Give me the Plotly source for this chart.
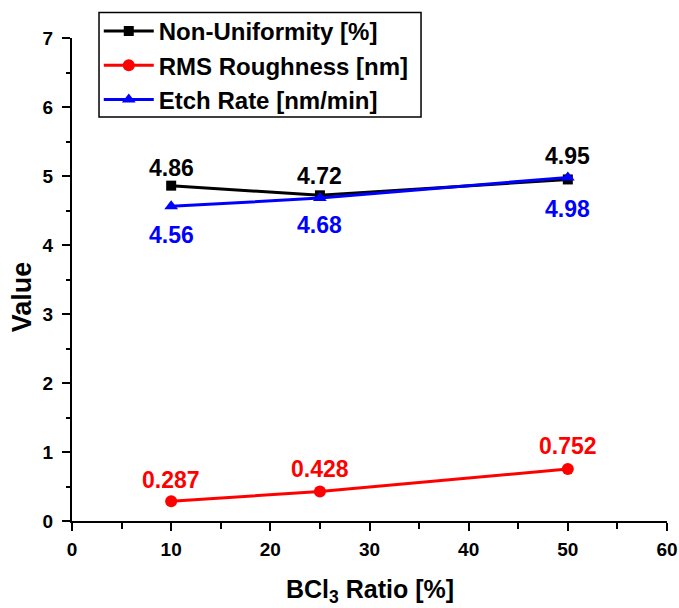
import plotly.graph_objects as go

# BCl3 ratio in the gas mix [%]
bcl3_ratio = [10, 25, 50]

# measured responses
non_uniformity = [4.86, 4.72, 4.95]   # %
rms_roughness = [0.287, 0.428, 0.752]  # nm
etch_rate = [4.56, 4.68, 4.98]        # nm/min

x_ticks = [0, 10, 20, 30, 40, 50, 60]
y_ticks = [0, 1, 2, 3, 4, 5, 6, 7]

FONT = "Liberation Sans, Arial, sans-serif"

series = [
    # name, values, colour, marker symbol, marker size, value-label y-shifts (px)
    ("Non-Uniformity [%]", non_uniformity, "#000000", "square", 10, [18, 19, 23]),
    ("RMS Roughness [nm]", rms_roughness, "#ff0000", "circle", 12, [21, 22, 23]),
    ("Etch Rate [nm/min]", etch_rate, "#0000ff", "triangle-up", 12, [-29, -27, -32]),
]

fig = go.Figure()

for name, vals, color, symbol, msize, shifts in series:
    fig.add_trace(go.Scatter(
        x=bcl3_ratio, y=vals, name=name, mode="lines+markers",
        line=dict(color=color, width=3),
        marker=dict(symbol=symbol, size=msize, color=color),
    ))
    for xv, yv, shift in zip(bcl3_ratio, vals, shifts):
        fig.add_annotation(
            x=xv, y=yv, text=f"{yv:g}", showarrow=False, yshift=shift,
            font=dict(family=FONT, size=23, color=color, weight="bold"),
        )

axis_common = dict(
    showgrid=False, zeroline=False, showline=True, linecolor="black",
    linewidth=2, ticks="outside", ticklen=8, tickwidth=2, tickcolor="black",
    tickfont=dict(family=FONT, size=19, color="black", weight="bold"),
    mirror=False,
)

fig.update_xaxes(
    range=[0, 60], tickvals=x_ticks, ticktext=[str(v) for v in x_ticks],
    minor=dict(dtick=5, ticklen=6, tickwidth=2, tickcolor="black", ticks="outside"),
    ticklabelstandoff=2,
    **axis_common,
)
fig.update_yaxes(
    range=[0, 7], tickvals=y_ticks, ticktext=[str(v) for v in y_ticks],
    minor=dict(dtick=0.5, ticklen=4, tickwidth=2, tickcolor="black", ticks="outside"),
    ticklabelstandoff=5,
    **axis_common,
)

# axis titles
title_font = dict(family=FONT, size=25, color="black", weight="bold")
fig.add_annotation(
    text="BCl<sub>3</sub> Ratio [%]", xref="paper", yref="paper",
    x=0.5, y=-0.145, xanchor="center", yanchor="middle",
    showarrow=False, font=title_font,
)
fig.add_annotation(
    text="Value", xref="paper", yref="paper",
    x=-0.085, y=0.464, xanchor="center", yanchor="middle", textangle=-90,
    showarrow=False, font=dict(family=FONT, size=27, color="black", weight="bold"),
)

# framed box behind the legend entries
fig.add_shape(
    type="rect", xref="paper", yref="paper",
    x0=0.0454, x1=0.5866, y0=0.8364, y1=1.0528,
    line=dict(color="black", width=1.5), fillcolor="white", layer="above",
)

fig.update_layout(
    width=679, height=608,
    margin=dict(l=72, r=12, t=38, b=87, autoexpand=False),
    plot_bgcolor="white", paper_bgcolor="white",
    showlegend=True,
    legend=dict(
        x=0.045, y=1.060, xanchor="left", yanchor="top",
        bgcolor="rgba(0,0,0,0)", borderwidth=0,
        font=dict(family=FONT, size=24, color="black", weight="bold"),
        itemwidth=50, tracegroupgap=0,
    ),
)

fig.write_html("out.html")
